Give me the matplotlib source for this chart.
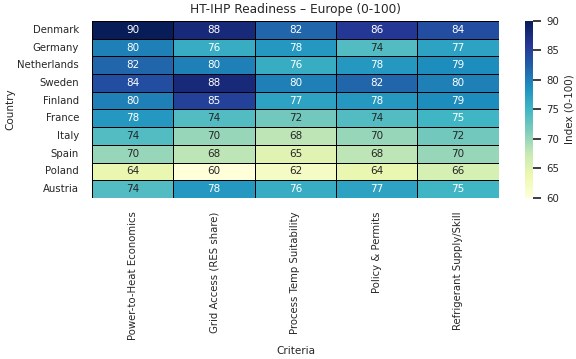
import pandas as pd
import seaborn as sns
import matplotlib.pyplot as plt

countries = ['Denmark', 'Germany', 'Netherlands', 'Sweden', 'Finland',
             'France', 'Italy', 'Spain', 'Poland', 'Austria']
criteria = ['Power-to-Heat Economics', 'Grid Access (RES share)',
            'Process Temp Suitability', 'Policy & Permits',
            'Refrigerant Supply/Skill']
p2h_econ = [90, 80, 82, 84, 80, 78, 74, 70, 64, 74]
grid_access = [88, 76, 80, 88, 85, 74, 70, 68, 60, 78]
process_temp = [82, 78, 76, 80, 77, 72, 68, 65, 62, 76]
policy = [86, 74, 78, 82, 78, 74, 70, 68, 64, 77]
refrigerant = [84, 77, 79, 80, 79, 75, 72, 70, 66, 75]


def main():
    df = pd.DataFrame({criteria[0]: p2h_econ, criteria[1]: grid_access,
                       criteria[2]: process_temp, criteria[3]: policy,
                       criteria[4]: refrigerant}, index=countries)
    df.index.name = 'Country'
    df.columns.name = 'Criteria'

    sns.set_theme(style='white')
    plt.rcParams.update({'xtick.labelsize': 7.3, 'ytick.labelsize': 7.3,
                         'axes.labelsize': 7.5})
    fig = plt.figure(figsize=(5.76, 3.59), dpi=100)
    ax = fig.add_axes([0.160, 0.4485, 0.706, 0.493])
    cax = fig.add_axes([0.911, 0.4485, 0.014, 0.493])
    sns.heatmap(df, annot=True, fmt='d', cmap='YlGnBu', vmin=60, vmax=90,
                linewidths=0.6, linecolor='black', annot_kws={'size': 7.5},
                cbar_ax=cax, cbar_kws={'label': 'Index (0-100)'}, ax=ax)
    ax.set_title('HT-IHP Readiness \u2013 Europe (0-100)', fontsize=8.7)
    ax.set_ylabel('Country', labelpad=1)
    plt.setp(ax.get_xticklabels(), rotation=90)
    plt.setp(ax.get_yticklabels(), rotation=0)
    plt.savefig('out.png', dpi=100)


if __name__ == '__main__':
    main()
